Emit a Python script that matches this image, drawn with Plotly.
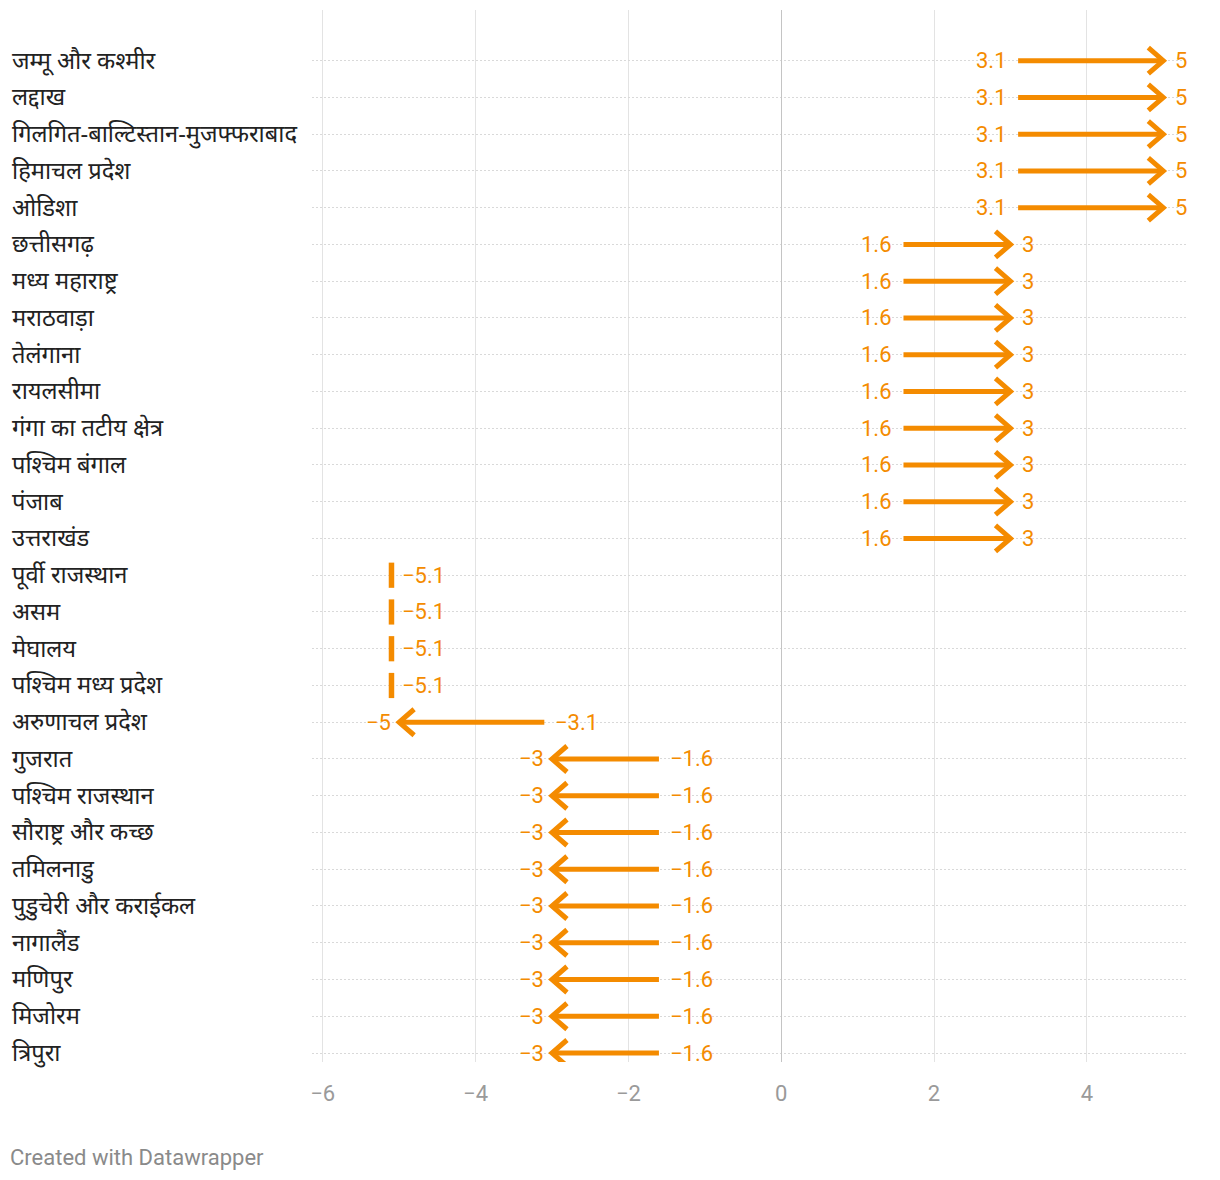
import plotly.graph_objects as go

categories = [
    "जम्मू और कश्मीर", "लद्दाख", "गिलगित-बाल्टिस्तान-मुजफ्फराबाद", "हिमाचल प्रदेश", "ओडिशा",
    "छत्तीसगढ़", "मध्य महाराष्ट्र", "मराठवाड़ा", "तेलंगाना", "रायलसीमा",
    "गंगा का तटीय क्षेत्र", "पश्चिम बंगाल", "पंजाब", "उत्तराखंड",
    "पूर्वी राजस्थान", "असम", "मेघालय", "पश्चिम मध्य प्रदेश", "अरुणाचल प्रदेश",
    "गुजरात", "पश्चिम राजस्थान", "सौराष्ट्र और कच्छ", "तमिलनाडु", "पुडुचेरी और कराईकल",
    "नागालैंड", "मणिपुर", "मिजोरम", "त्रिपुरा",
]
start_values = [3.1, 3.1, 3.1, 3.1, 3.1,
                1.6, 1.6, 1.6, 1.6, 1.6, 1.6, 1.6, 1.6, 1.6,
                -5.1, -5.1, -5.1, -5.1, -3.1,
                -1.6, -1.6, -1.6, -1.6, -1.6, -1.6, -1.6, -1.6, -1.6]
end_values = [5, 5, 5, 5, 5,
              3, 3, 3, 3, 3, 3, 3, 3, 3,
              -5.1, -5.1, -5.1, -5.1, -5,
              -3, -3, -3, -3, -3, -3, -3, -3, -3]
x_ticks = [-6, -4, -2, 0, 2, 4]
x_tick_labels = ["−6", "−4", "−2", "0", "2", "4"]

ORANGE = "#f48b00"
W, H = 1212, 1172
ML, MR, MT, MB = 304, 33, 2, 118
PW, PH = W - ML - MR, H - MT - MB
XMIN, XMAX = -6.14, 5.31
n = len(categories)
YTOP, YBOT = -1.38, n - 1 + 0.245

ux = PW / (XMAX - XMIN)       # px per x unit
uy = PH / (YBOT - YTOP)       # px per row
hx = 15 / ux
hy = 13 / uy

VAL_FONT = dict(color=ORANGE, size=22, family="Roboto")


def fmt(v):
    s = f"{abs(v):g}"
    return ("−" if v < 0 else "") + s


ax, ay = [], []
bx, by = [], []
annotations = []
for i, (s, e) in enumerate(zip(start_values, end_values)):
    if s == e:
        bx.append(s)
        by.append(i)
        annotations.append(dict(x=s, y=i, text=fmt(s), xanchor="left", xshift=9,
                                showarrow=False, font=VAL_FONT))
        continue
    d = 1 if e > s else -1
    ax += [s, e, None, e - d * hx, e, e - d * hx, None]
    ay += [i, i, None, i - hy, i, i + hy, None]
    annotations.append(dict(x=s, y=i, text=fmt(s), xanchor="right" if d > 0 else "left",
                            xshift=-9 * d, showarrow=False, font=VAL_FONT))
    annotations.append(dict(x=e, y=i, text=fmt(e), xanchor="left" if d > 0 else "right",
                            xshift=10 if d > 0 else -6, showarrow=False, font=VAL_FONT))

for i, c in enumerate(categories):
    annotations.append(dict(x=(2 - ML) / PW, xref="paper", y=i, yref="y", text=c,
                            xanchor="left", yshift=1, showarrow=False,
                            font=dict(color="#222222", size=23.7, family="Noto Sans, sans-serif")))

annotations.append(dict(x=(0 - ML) / PW, xref="paper", y=-(1149 - (H - MB)) / PH, yref="paper",
                        text="Created with Datawrapper", xanchor="left", yanchor="middle",
                        showarrow=False, font=dict(color="#8a8a8a", size=22, family="Roboto")))

fig = go.Figure()
fig.add_trace(go.Scatter(x=ax, y=ay, mode="lines", line=dict(color=ORANGE, width=5),
                         hoverinfo="skip", showlegend=False))
fig.add_trace(go.Scatter(x=bx, y=by, mode="markers",
                         marker=dict(symbol="line-ns", size=18, line=dict(color=ORANGE, width=5.5)),
                         hoverinfo="skip", showlegend=False))

fig.update_layout(
    width=W, height=H,
    margin=dict(l=ML, r=MR, t=MT, b=MB),
    plot_bgcolor="white", paper_bgcolor="white",
    annotations=annotations,
    xaxis=dict(range=[XMIN, XMAX], tickvals=x_ticks, ticktext=x_tick_labels,
               showgrid=True, gridcolor="#e3e3e3", gridwidth=1,
               zeroline=True, zerolinecolor="#c4c4c4", zerolinewidth=1,
               showline=False, ticks="", ticklabelstandoff=16,
               tickfont=dict(color="#9a9a9a", size=22, family="Roboto")),
    yaxis=dict(range=[YBOT, YTOP], tickvals=list(range(n)), showticklabels=False,
               showgrid=True, gridcolor="#d9d9d9", gridwidth=1, griddash="2px,2px",
               zeroline=False, showline=False, ticks=""),
)

fig.write_html("out.html")
